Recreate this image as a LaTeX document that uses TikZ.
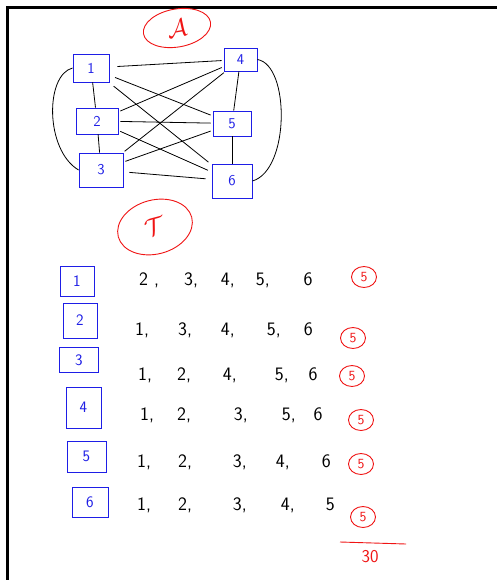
\documentclass[tikz,border=0pt]{standalone}
\usetikzlibrary{shapes.geometric}
\definecolor{pblue}{RGB}{30,30,230}
\definecolor{pred}{RGB}{240,20,20}
\newcommand{\gsep}[1]{,\hspace{#1pt}}
\begin{document}
\begin{tikzpicture}[x=1pt,y=-1pt,
  gbox/.style={draw=pblue, line width=0.9pt, text=pblue, inner sep=0pt, font=\sffamily\fontsize{15}{15}\selectfont},
  lbox/.style={draw=pblue, line width=0.9pt, text=pblue, inner sep=0pt, font=\sffamily\fontsize{16}{16}\selectfont},
  edge/.style={line width=0.8pt, black},
  rcirc/.style={ellipse, draw=pred, line width=0.9pt, text=pred, inner sep=0pt, minimum width=25pt, minimum height=21pt, font=\sffamily\fontsize{14}{14}\selectfont},
  rowtxt/.style={anchor=base west, inner sep=0pt, font=\sffamily\fontsize{19}{19}\selectfont}]
\useasboundingbox (0,0) rectangle (497,580);
\fill[white] (0,0) rectangle (497,580);
\draw[line width=2.5pt] (497,7.5) -- (7.5,7.5) -- (7.5,580);

% graph
\node[gbox, minimum width=36pt, minimum height=28pt] (n1) at (91,68) {1};
\node[gbox, minimum width=42pt, minimum height=26pt] (n2) at (97,121) {2};
\node[gbox, minimum width=44pt, minimum height=34pt] (n3) at (101,170) {3};
\node[gbox, minimum width=33pt, minimum height=23pt] (n4) at (240.5,59.5) {4};
\node[gbox, minimum width=38pt, minimum height=25pt] (n5) at (232,123.5) {5};
\node[gbox, minimum width=40pt, minimum height=34pt] (n6) at (232,181) {6};

\draw[edge] (n1) -- (n2);
\draw[edge] (n2) -- (n3);
\draw[edge] (n4) -- (n5);
\draw[edge] (n5) -- (n6);
\draw[edge, shorten <=8pt, shorten >=2pt] (n1) -- (n4);
\draw[edge, shorten <=6pt, shorten >=2pt] (n1) -- (n5);
\draw[edge, shorten <=6pt, shorten >=4pt] (n1) -- (n6);
\draw[edge, shorten <=2pt, shorten >=2pt] (n2) -- (n4);
\draw[edge, shorten <=2pt, shorten >=2pt] (n2) -- (n5);
\draw[edge, shorten <=2pt, shorten >=4pt] (n2) -- (n6);
\draw[edge, shorten <=2pt, shorten >=2pt] (n3) -- (n4);
\draw[edge, shorten <=2pt, shorten >=2pt] (n3) -- (n5);
\draw[edge, shorten <=6pt, shorten >=6pt] (n3) -- (n6);
\draw[edge] (n1.west) .. controls (45,75) and (45,150) .. (n3.west);
\draw[edge] (n4.east) .. controls (290,65) and (290,170) .. (n6.east);

% red circled letters
\node[ellipse, draw=pred, line width=0.9pt, text=pred, inner sep=0pt, minimum width=68pt, minimum height=38pt, rotate=10, font=\fontsize{26}{26}\selectfont] (ca) at (177,28) {$\mathcal{A}$};
\node[ellipse, draw=pred, line width=0.9pt, text=pred, inner sep=0pt, minimum width=76pt, minimum height=54pt, rotate=15, font=\fontsize{32}{32}\selectfont] (ct) at (155,227) {$\mathcal{T}$};

% list
\node[lbox, minimum width=34pt, minimum height=30pt] (m1) at (77,281) {1};
\node[lbox, minimum width=34pt, minimum height=35pt] (m2) at (80,320.5) {2};
\node[lbox, minimum width=39pt, minimum height=25pt] (m3) at (79,360) {3};
\node[lbox, minimum width=35pt, minimum height=41pt] (m4) at (83.5,407.5) {4};
\node[lbox, minimum width=39pt, minimum height=31pt] (m5) at (86.5,456.5) {5};
\node[lbox, minimum width=36pt, minimum height=30pt] (m6) at (90,502) {6};

\node[rowtxt] (r1) at (139,285) {2\hspace{6pt}\gsep{25}3\gsep{23}4\gsep{21}5\gsep{34}6};
\node[rowtxt] (r2) at (135,335) {1\gsep{29}3\gsep{29}4\gsep{32}5\gsep{23}6};
\node[rowtxt] (r3) at (138,380) {1\gsep{25}2\gsep{32}4\gsep{38}5\gsep{20}6};
\node[rowtxt] (r4) at (140,420) {1\gsep{23}2\gsep{43}3\gsep{34}5\gsep{18}6};
\node[rowtxt] (r5) at (137,467) {1\gsep{27}2\gsep{41}3\gsep{29}4\gsep{32}6};
\node[rowtxt] (r6) at (137,510) {1\gsep{27}2\gsep{41}3\gsep{34}4\gsep{31}5};

\node[rcirc] (c1) at (364,277) {5};
\node[rcirc] (c2) at (353,338) {5};
\node[rcirc] (c3) at (352,376) {5};
\node[rcirc] (c4) at (361,420) {5};
\node[rcirc] (c5) at (361,464) {5};
\node[rcirc] (c6) at (363,517) {5};

\coordinate (l1) at (340,542);
\coordinate (l2) at (406,544);
\draw[pred, line width=0.9pt] (l1) -- (l2);
\node[text=pred, inner sep=0pt, font=\sffamily\fontsize{18}{18}\selectfont] (tot) at (370,557) {30};
\end{tikzpicture}
\end{document}
